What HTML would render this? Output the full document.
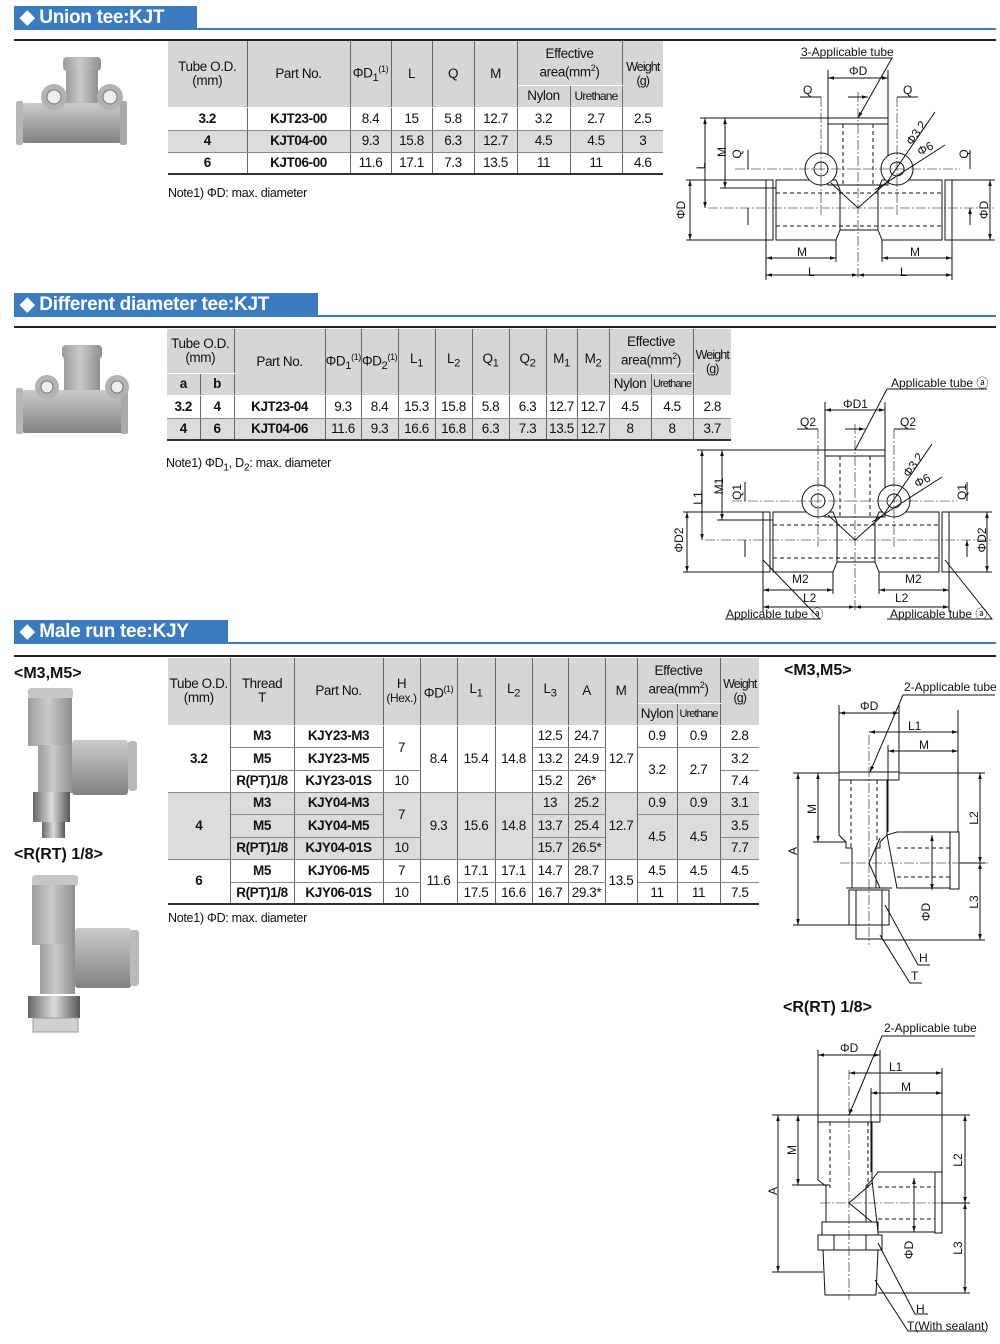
<!DOCTYPE html>
<html><head><meta charset="utf-8">
<style>
*{margin:0;padding:0;box-sizing:border-box}
body{width:1000px;height:1344px;position:relative;background:#fff;font-family:"Liberation Sans",sans-serif;color:#111;overflow:hidden}
.hdr{position:absolute;left:14px;height:24px;background:#3b7cc0;color:#fff;font-weight:bold;font-size:19px;line-height:24px;padding-left:6px;letter-spacing:-0.3px}
.hline{position:absolute;left:14px;width:982px;height:2px;background:#3b7cc0}
.bline{position:absolute;left:14px;width:982px;height:2px;background:#222}
table{position:absolute;border-collapse:collapse;table-layout:fixed;font-size:13.5px;letter-spacing:-0.4px;text-align:center}
td{border-left:1px solid #666;border-right:1px solid #666;border-bottom:1px solid #888;padding:0;line-height:14px;overflow:hidden;white-space:nowrap}
td:first-child{border-left:none}
td:last-child{border-right:none}
tr.h td{background:#d6d6d6;border-bottom:1px solid #fff}
tr.g td{background:#dcdcdc}
td.b{font-weight:bold}
td.w{font-size:12.5px;letter-spacing:-0.9px}
sup{font-size:9px}
.note{position:absolute;font-size:12.5px;letter-spacing:-0.3px}
.sub{position:absolute;font-weight:bold;font-size:16px}
svg{position:absolute;left:0;top:0}
svg text{font-family:"Liberation Sans",sans-serif;font-size:12px;fill:#111}
</style></head><body>

<div class="hdr" style="top:6px;width:183px">◆ Union tee:KJT</div>
<div class="hline" style="top:28px"></div>
<div class="bline" style="top:39px"></div>

<div class="hdr" style="top:293px;width:304px">◆ Different diameter tee:KJT</div>
<div class="hline" style="top:315px"></div>
<div class="bline" style="top:326px"></div>

<div class="hdr" style="top:620px;width:214px">◆ Male run tee:KJY</div>
<div class="hline" style="top:642px"></div>
<div class="bline" style="top:655px"></div>

<!-- Table 1 -->
<table style="left:168px;top:41px;width:495px">
<colgroup><col style="width:79px"><col style="width:103px"><col style="width:41px"><col style="width:41px"><col style="width:42px"><col style="width:43px"><col style="width:53px"><col style="width:52px"><col style="width:41px"></colgroup>
<tr class="h" style="height:44px"><td rowspan="2">Tube O.D.<br>(mm)</td><td rowspan="2">Part No.</td><td rowspan="2">ΦD<sub>1</sub><sup>(1)</sup></td><td rowspan="2">L</td><td rowspan="2">Q</td><td rowspan="2">M</td><td colspan="2">Effective<br>area(mm<sup>2</sup>)</td><td rowspan="2" class="w">Weight<br>(g)</td></tr>
<tr class="h" style="height:22px"><td>Nylon</td><td style="font-size:12px;letter-spacing:-0.8px">Urethane</td></tr>
<tr style="height:23px"><td class="b">3.2</td><td class="b">KJT23-00</td><td>8.4</td><td>15</td><td>5.8</td><td>12.7</td><td>3.2</td><td>2.7</td><td>2.5</td></tr>
<tr class="g" style="height:22px"><td class="b">4</td><td class="b">KJT04-00</td><td>9.3</td><td>15.8</td><td>6.3</td><td>12.7</td><td>4.5</td><td>4.5</td><td>3</td></tr>
<tr style="height:22px;border-bottom:2px solid #333"><td class="b">6</td><td class="b">KJT06-00</td><td>11.6</td><td>17.1</td><td>7.3</td><td>13.5</td><td>11</td><td>11</td><td>4.6</td></tr>
</table>
<div class="note" style="left:168px;top:186px">Note1) ΦD: max. diameter</div>

<!-- Table 2 -->
<table style="left:167px;top:329px;width:564px">
<colgroup><col style="width:33px"><col style="width:34px"><col style="width:91px"><col style="width:36px"><col style="width:37px"><col style="width:37px"><col style="width:37px"><col style="width:37px"><col style="width:37px"><col style="width:31px"><col style="width:32px"><col style="width:42px"><col style="width:42px"><col style="width:38px"></colgroup>
<tr class="h" style="height:44px"><td colspan="2">Tube O.D.<br>(mm)</td><td rowspan="2">Part No.</td><td rowspan="2">ΦD<sub>1</sub><sup>(1)</sup></td><td rowspan="2">ΦD<sub>2</sub><sup>(1)</sup></td><td rowspan="2">L<sub>1</sub></td><td rowspan="2">L<sub>2</sub></td><td rowspan="2">Q<sub>1</sub></td><td rowspan="2">Q<sub>2</sub></td><td rowspan="2">M<sub>1</sub></td><td rowspan="2">M<sub>2</sub></td><td colspan="2">Effective<br>area(mm<sup>2</sup>)</td><td rowspan="2" class="w">Weight<br>(g)</td></tr>
<tr class="h" style="height:22px"><td class="b">a</td><td class="b">b</td><td>Nylon</td><td style="font-size:11px;letter-spacing:-0.9px">Urethane</td></tr>
<tr style="height:23px"><td class="b">3.2</td><td class="b">4</td><td class="b">KJT23-04</td><td>9.3</td><td>8.4</td><td>15.3</td><td>15.8</td><td>5.8</td><td>6.3</td><td>12.7</td><td>12.7</td><td>4.5</td><td>4.5</td><td>2.8</td></tr>
<tr class="g" style="height:22px;border-bottom:2px solid #333"><td class="b">4</td><td class="b">6</td><td class="b">KJT04-06</td><td>11.6</td><td>9.3</td><td>16.6</td><td>16.8</td><td>6.3</td><td>7.3</td><td>13.5</td><td>12.7</td><td>8</td><td>8</td><td>3.7</td></tr>
</table>
<div class="note" style="left:166px;top:456px">Note1) ΦD<sub>1</sub>, D<sub>2</sub>: max. diameter</div>

<!-- Table 3 -->
<table style="left:168px;top:658px;width:591px">
<colgroup><col style="width:62px"><col style="width:64px"><col style="width:89px"><col style="width:37px"><col style="width:37px"><col style="width:38px"><col style="width:37px"><col style="width:36px"><col style="width:37px"><col style="width:32px"><col style="width:40px"><col style="width:43px"><col style="width:39px"></colgroup>
<tr class="h" style="height:45px"><td rowspan="2">Tube O.D.<br>(mm)</td><td rowspan="2">Thread<br>T</td><td rowspan="2">Part No.</td><td rowspan="2">H<br><span style="font-size:12px">(Hex.)</span></td><td rowspan="2">ΦD<sup>(1)</sup></td><td rowspan="2">L<sub>1</sub></td><td rowspan="2">L<sub>2</sub></td><td rowspan="2">L<sub>3</sub></td><td rowspan="2">A</td><td rowspan="2">M</td><td colspan="2">Effective<br>area(mm<sup>2</sup>)</td><td rowspan="2" class="w">Weight<br>(g)</td></tr>
<tr class="h" style="height:22px"><td>Nylon</td><td style="font-size:11px;letter-spacing:-0.9px">Urethane</td></tr>
<tr style="height:22px"><td class="b" rowspan="3">3.2</td><td class="b">M3</td><td class="b">KJY23-M3</td><td rowspan="2">7</td><td rowspan="3">8.4</td><td rowspan="3">15.4</td><td rowspan="3">14.8</td><td>12.5</td><td>24.7</td><td rowspan="3">12.7</td><td>0.9</td><td>0.9</td><td>2.8</td></tr>
<tr style="height:23px"><td class="b">M5</td><td class="b">KJY23-M5</td><td>13.2</td><td>24.9</td><td rowspan="2">3.2</td><td rowspan="2">2.7</td><td>3.2</td></tr>
<tr style="height:22px"><td class="b">R(PT)1/8</td><td class="b">KJY23-01S</td><td>10</td><td>15.2</td><td>26*</td><td>7.4</td></tr>
<tr class="g" style="height:22px"><td class="b" rowspan="3">4</td><td class="b">M3</td><td class="b">KJY04-M3</td><td rowspan="2">7</td><td rowspan="3">9.3</td><td rowspan="3">15.6</td><td rowspan="3">14.8</td><td>13</td><td>25.2</td><td rowspan="3">12.7</td><td>0.9</td><td>0.9</td><td>3.1</td></tr>
<tr class="g" style="height:23px"><td class="b">M5</td><td class="b">KJY04-M5</td><td>13.7</td><td>25.4</td><td rowspan="2">4.5</td><td rowspan="2">4.5</td><td>3.5</td></tr>
<tr class="g" style="height:22px"><td class="b">R(PT)1/8</td><td class="b">KJY04-01S</td><td>10</td><td>15.7</td><td>26.5*</td><td>7.7</td></tr>
<tr style="height:23px"><td class="b" rowspan="2">6</td><td class="b">M5</td><td class="b">KJY06-M5</td><td>7</td><td rowspan="2">11.6</td><td>17.1</td><td>17.1</td><td>14.7</td><td>28.7</td><td rowspan="2">13.5</td><td>4.5</td><td>4.5</td><td>4.5</td></tr>
<tr style="height:22px;border-bottom:2px solid #333"><td class="b">R(PT)1/8</td><td class="b">KJY06-01S</td><td>10</td><td>17.5</td><td>16.6</td><td>16.7</td><td>29.3*</td><td>11</td><td>11</td><td>7.5</td></tr>
</table>
<div class="note" style="left:168px;top:911px">Note1) ΦD: max. diameter</div>

<div class="sub" style="left:14px;top:665px">&lt;M3,M5&gt;</div>
<div class="sub" style="left:14px;top:846px">&lt;R(RT) 1/8&gt;</div>
<div class="sub" style="left:784px;top:662px">&lt;M3,M5&gt;</div>
<div class="sub" style="left:783px;top:999px">&lt;R(RT) 1/8&gt;</div>

<svg width="1000" height="1344" viewBox="0 0 1000 1344">
<defs>
<linearGradient id="gv" x1="0" y1="0" x2="0" y2="1"><stop offset="0" stop-color="#c9cbcd"/><stop offset="0.5" stop-color="#a4a6a8"/><stop offset="1" stop-color="#7f8183"/></linearGradient>
<linearGradient id="gh" x1="0" y1="0" x2="1" y2="0"><stop offset="0" stop-color="#9a9c9e"/><stop offset="0.45" stop-color="#c8cacc"/><stop offset="1" stop-color="#8d8f91"/></linearGradient>
<linearGradient id="gm" x1="0" y1="0" x2="1" y2="0"><stop offset="0" stop-color="#666"/><stop offset="0.5" stop-color="#ddd"/><stop offset="1" stop-color="#555"/></linearGradient>
<marker id="a" viewBox="0 0 10 10" refX="10" refY="5" markerWidth="6" markerHeight="6" orient="auto-start-reverse"><path d="M0,2 L10,5 L0,8z" fill="#111"/></marker>
</defs>

<!-- Photos -->
<g>
<rect x="63" y="57" width="38" height="14" rx="4" fill="url(#gh)"/>
<rect x="66" y="70" width="32" height="45" fill="url(#gh)"/>
<rect x="22" y="103" width="100" height="40" rx="3" fill="url(#gv)"/>
<rect x="16" y="101" width="7" height="44" rx="2" fill="#b5b7b9"/>
<rect x="120" y="101" width="7" height="44" rx="2" fill="#a8aaac"/>
<circle cx="54" cy="97" r="13" fill="#b0b2b4"/><circle cx="54" cy="97" r="7" fill="#eee" stroke="#777"/>
<circle cx="110" cy="97" r="13" fill="#b0b2b4"/><circle cx="110" cy="97" r="7" fill="#eee" stroke="#777"/>
</g>
<g>
<rect x="62" y="345" width="40" height="14" rx="4" fill="url(#gh)"/>
<rect x="64" y="358" width="36" height="48" fill="url(#gh)"/>
<rect x="22" y="390" width="102" height="43" rx="3" fill="url(#gv)"/>
<rect x="16" y="388" width="7" height="46" rx="2" fill="#b5b7b9"/>
<rect x="121" y="388" width="7" height="46" rx="2" fill="#a8aaac"/>
<circle cx="47" cy="387" r="12" fill="#b0b2b4"/><circle cx="47" cy="387" r="6" fill="#eee" stroke="#777"/>
<circle cx="117" cy="387" r="12" fill="#b0b2b4"/><circle cx="117" cy="387" r="6" fill="#eee" stroke="#777"/>
</g>
<g>
<rect x="28" y="688" width="45" height="11" rx="3" fill="#c4c6c8"/>
<rect x="28" y="698" width="44" height="48" fill="url(#gh)"/>
<rect x="38" y="745" width="34" height="48" fill="url(#gh)"/>
<rect x="72" y="740" width="56" height="55" rx="3" fill="url(#gv)"/>
<rect x="128" y="741" width="9" height="50" rx="3" fill="#b8babc"/>
<rect x="33" y="792" width="37" height="30" fill="url(#gm)"/>
<rect x="42" y="822" width="23" height="16" fill="url(#gm)"/>
</g>
<g>
<rect x="32" y="875" width="46" height="11" rx="3" fill="#c4c6c8"/>
<rect x="32" y="885" width="43" height="60" fill="url(#gh)"/>
<rect x="40" y="944" width="35" height="50" fill="url(#gh)"/>
<rect x="75" y="928" width="56" height="60" rx="3" fill="url(#gv)"/>
<rect x="130" y="930" width="9" height="56" rx="3" fill="#b8babc"/>
<rect x="28" y="996" width="52" height="22" fill="url(#gm)"/>
<rect x="33" y="1018" width="45" height="14" fill="#d0d0d0" stroke="#999"/>
</g>

<!-- Drawing 1 -->
<g fill="none" stroke="#111" stroke-width="1">
<rect x="828" y="118" width="60" height="6"/>
<rect x="828" y="124" width="60" height="61"/>
<path d="M776,180 H836 L840,190 V230 L836,240 H776 Z"/>
<path d="M942,180 H882 L878,190 V230 L882,240 H942 Z"/>
<path d="M840,230 H878"/>
<rect x="766" y="180" width="7" height="60"/>
<rect x="945" y="180" width="7" height="60"/>
<circle cx="821" cy="169" r="16" fill="#fff"/><circle cx="821" cy="169" r="7"/>
<circle cx="897" cy="169" r="16" fill="#fff"/><circle cx="897" cy="169" r="7"/>
<path d="M831,183 L858,208 L886,183"/>
<path d="M776,193 H942 M776,226 H942 M843,124 V185 M873,124 V185" stroke-dasharray="4,3"/>
<path d="M858,92 V280 M708,208 H995 M735,169 H960 M821,97 V215 M897,97 V215" stroke-width="0.6" stroke-dasharray="10,2,2,2"/>
<path d="M828,70 V118 M888,70 V118 M700,118 H828 M720,188 H776 M686,180 H766 M686,240 H766 M952,180 H995 M952,240 H995 M766,240 V280 M952,240 V280 M836,240 V262 M882,240 V262"/>
<path d="M828,78 H888" marker-start="url(#a)" marker-end="url(#a)"/>
<path d="M800,97 H821 M858,97 H848 M897,97 H918 M858,97 H868" marker-end="url(#a)"/>
<path d="M705,118 V208" marker-start="url(#a)" marker-end="url(#a)"/>
<path d="M725,118 V188" marker-start="url(#a)" marker-end="url(#a)"/>
<path d="M748,150 V169 M748,225 V208 M970,150 V169 M970,225 V208" marker-end="url(#a)"/>
<path d="M690,180 V240" marker-start="url(#a)" marker-end="url(#a)"/>
<path d="M990,180 V240" marker-start="url(#a)" marker-end="url(#a)"/>
<path d="M766,258 H836" marker-start="url(#a)" marker-end="url(#a)"/>
<path d="M882,258 H952" marker-start="url(#a)" marker-end="url(#a)"/>
<path d="M766,275 H858" marker-start="url(#a)" marker-end="url(#a)"/>
<path d="M858,275 H952" marker-start="url(#a)" marker-end="url(#a)"/>
<path d="M800,58 H892 L858,118" marker-end="url(#a)"/>
<path d="M935,112 L885,185 M945,145 L875,190"/>
</g>
<g>
<text x="801" y="56">3-Applicable tube</text>
<text x="849" y="75">ΦD</text>
<text x="803" y="94">Q</text><text x="903" y="94">Q</text>
<text x="705" y="166" transform="rotate(-90 705 166)" text-anchor="middle">L</text>
<text x="726" y="152" transform="rotate(-90 726 152)" text-anchor="middle">M</text>
<text x="741" y="154" transform="rotate(-90 741 154)" text-anchor="middle">Q</text>
<text x="968" y="154" transform="rotate(-90 968 154)" text-anchor="middle">Q</text>
<text x="685" y="210" transform="rotate(-90 685 210)" text-anchor="middle">ΦD</text>
<text x="988" y="210" transform="rotate(-90 988 210)" text-anchor="middle">ΦD</text>
<text x="912" y="146" transform="rotate(-55 912 146)">Φ3.2</text>
<text x="920" y="156" transform="rotate(-28 920 156)">Φ6</text>
<text x="797" y="256">M</text><text x="910" y="256">M</text>
<text x="808" y="276">L</text><text x="900" y="276">L</text>
</g>

<!-- Drawing 2 -->
<g transform="translate(-3,332)" fill="none" stroke="#111" stroke-width="1">
<rect x="828" y="118" width="60" height="6"/>
<rect x="828" y="124" width="60" height="61"/>
<path d="M776,180 H836 L840,190 V230 L836,240 H776 Z"/>
<path d="M942,180 H882 L878,190 V230 L882,240 H942 Z"/>
<path d="M840,230 H878"/>
<rect x="766" y="180" width="7" height="60"/>
<rect x="945" y="180" width="7" height="60"/>
<circle cx="821" cy="169" r="16" fill="#fff"/><circle cx="821" cy="169" r="7"/>
<circle cx="897" cy="169" r="16" fill="#fff"/><circle cx="897" cy="169" r="7"/>
<path d="M831,183 L858,208 L886,183"/>
<path d="M776,193 H942 M776,226 H942 M843,124 V185 M873,124 V185" stroke-dasharray="4,3"/>
<path d="M858,92 V280 M708,208 H995 M735,169 H960 M821,97 V215 M897,97 V215" stroke-width="0.6" stroke-dasharray="10,2,2,2"/>
<path d="M828,70 V118 M888,70 V118 M700,118 H828 M720,188 H776 M686,180 H766 M686,240 H766 M952,180 H995 M952,240 H995 M766,240 V280 M952,240 V280 M836,240 V262 M882,240 V262"/>
<path d="M828,78 H888" marker-start="url(#a)" marker-end="url(#a)"/>
<path d="M800,97 H821 M858,97 H848 M897,97 H918 M858,97 H868" marker-end="url(#a)"/>
<path d="M705,118 V208" marker-start="url(#a)" marker-end="url(#a)"/>
<path d="M725,118 V188" marker-start="url(#a)" marker-end="url(#a)"/>
<path d="M748,150 V169 M748,225 V208 M970,150 V169 M970,225 V208" marker-end="url(#a)"/>
<path d="M690,180 V240" marker-start="url(#a)" marker-end="url(#a)"/>
<path d="M990,180 V240" marker-start="url(#a)" marker-end="url(#a)"/>
<path d="M766,258 H836" marker-start="url(#a)" marker-end="url(#a)"/>
<path d="M882,258 H952" marker-start="url(#a)" marker-end="url(#a)"/>
<path d="M766,275 H858" marker-start="url(#a)" marker-end="url(#a)"/>
<path d="M858,275 H952" marker-start="url(#a)" marker-end="url(#a)"/>
<path d="M890,57 H990 M890,57 L858,118" />
<path d="M935,112 L885,185 M945,145 L875,190"/>
<path d="M728,287 H823 L766,228 M890,287 H995 L948,228"/>
</g>
<g>
<text x="891" y="387">Applicable tube ⓐ</text>
<text x="843" y="408">ΦD1</text>
<text x="800" y="426">Q2</text><text x="900" y="426">Q2</text>
<text x="702" y="498" transform="rotate(-90 702 498)" text-anchor="middle">L1</text>
<text x="723" y="486" transform="rotate(-90 723 486)" text-anchor="middle">M1</text>
<text x="741" y="492" transform="rotate(-90 741 492)" text-anchor="middle">Q1</text>
<text x="966" y="492" transform="rotate(-90 966 492)" text-anchor="middle">Q1</text>
<text x="683" y="540" transform="rotate(-90 683 540)" text-anchor="middle">ΦD2</text>
<text x="986" y="540" transform="rotate(-90 986 540)" text-anchor="middle">ΦD2</text>
<text x="909" y="478" transform="rotate(-55 909 478)">Φ3.2</text>
<text x="917" y="488" transform="rotate(-28 917 488)">Φ6</text>
<text x="792" y="583">M2</text><text x="905" y="583">M2</text>
<text x="803" y="602">L2</text><text x="895" y="602">L2</text>
<text x="726" y="618">Applicable tube ⓐ</text>
<text x="890" y="618">Applicable tube ⓐ</text>
</g>

<!-- Drawing 3 -->
<g fill="none" stroke="#111" stroke-width="1">
<rect x="839" y="772" width="60" height="8"/>
<path d="M839,780 H887 V835 L880,842 V848 H876 V888 M839,780 V835 L846,842 V848 H852 V888"/>
<path d="M887,835 L897,832 H950 V888 H897 Z"/>
<rect x="950" y="832" width="9" height="57"/>
<rect x="849" y="890" width="40" height="35"/>
<path d="M856,890 V925 M882,890 V925 M846,888 H892"/>
<rect x="856" y="925" width="26" height="14"/>
<path d="M880,838 L869,863 L880,888"/>
<path d="M851,780 V848 M877,780 V848 M897,848 H950 M897,877 H950" stroke-dasharray="4,3"/>
<path d="M869,735 V945 M840,863 H988" stroke-width="0.6" stroke-dasharray="10,2,2,2"/>
<path d="M839,705 V772 M899,705 V772 M888,745 V832 M958,710 V832 M793,773 H839 M813,842 H846 M793,925 H849 M899,773 H985 M960,863 H985 M882,940 H985"/>
<path d="M839,713 H899" marker-start="url(#a)" marker-end="url(#a)"/>
<path d="M869,732 H958" marker-start="url(#a)" marker-end="url(#a)"/>
<path d="M888,751 H958" marker-start="url(#a)" marker-end="url(#a)"/>
<path d="M798,773 V925" marker-start="url(#a)" marker-end="url(#a)"/>
<path d="M818,773 V842" marker-start="url(#a)" marker-end="url(#a)"/>
<path d="M980,773 V863" marker-start="url(#a)" marker-end="url(#a)"/>
<path d="M980,863 V940" marker-start="url(#a)" marker-end="url(#a)"/>
<path d="M932,835 V890" marker-start="url(#a)" marker-end="url(#a)"/>
<path d="M995,695 H903 L870,772" marker-end="url(#a)"/>
<path d="M885,905 L918,965 H930 M880,935 L910,983 H922"/>
</g>
<g>
<text x="904" y="691">2-Applicable tube</text>
<text x="860" y="710">ΦD</text>
<text x="908" y="730">L1</text>
<text x="919" y="749">M</text>
<text x="797" y="851" transform="rotate(-90 797 851)" text-anchor="middle">A</text>
<text x="816" y="809" transform="rotate(-90 816 809)" text-anchor="middle">M</text>
<text x="978" y="818" transform="rotate(-90 978 818)" text-anchor="middle">L2</text>
<text x="978" y="902" transform="rotate(-90 978 902)" text-anchor="middle">L3</text>
<text x="930" y="912" transform="rotate(-90 930 912)" text-anchor="middle">ΦD</text>
<text x="919" y="962">H</text>
<text x="911" y="980">T</text>
</g>

<!-- Drawing 4 -->
<g fill="none" stroke="#111" stroke-width="1">
<rect x="818" y="1115" width="62" height="7"/>
<path d="M818,1122 H872 V1180 L866,1186 V1222 M818,1122 V1180 L826,1186 V1222"/>
<path d="M872,1180 L878,1172 H935 V1232 H878 Z"/>
<rect x="935" y="1172" width="7" height="61"/>
<rect x="822" y="1222" width="56" height="13"/>
<path d="M818,1235 H882 V1250 H818 Z M834,1235 V1250 M866,1235 V1250"/>
<path d="M823,1250 H878 L876,1295 H825 Z"/>
<path d="M872,1183 L849,1203 L872,1222"/>
<path d="M830,1122 V1188 M868,1122 V1188 M878,1187 H935 M878,1219 H935" stroke-dasharray="4,3"/>
<path d="M849,1070 V1300 M820,1203 H970" stroke-width="0.6" stroke-dasharray="10,2,2,2"/>
<path d="M818,1050 V1115 M880,1050 V1115 M871,1088 V1172 M942,1068 V1172 M772,1115 H818 M792,1185 H830 M772,1272 H823 M880,1115 H970 M942,1203 H970 M878,1293 H970"/>
<path d="M818,1055 H880" marker-start="url(#a)" marker-end="url(#a)"/>
<path d="M849,1073 H942" marker-start="url(#a)" marker-end="url(#a)"/>
<path d="M871,1093 H942" marker-start="url(#a)" marker-end="url(#a)"/>
<path d="M778,1115 V1272" marker-start="url(#a)" marker-end="url(#a)"/>
<path d="M798,1115 V1185" marker-start="url(#a)" marker-end="url(#a)"/>
<path d="M965,1115 V1203" marker-start="url(#a)" marker-end="url(#a)"/>
<path d="M965,1203 V1293" marker-start="url(#a)" marker-end="url(#a)"/>
<path d="M914,1178 V1232" marker-start="url(#a)" marker-end="url(#a)"/>
<path d="M975,1036 H882 L849,1115" marker-end="url(#a)"/>
<path d="M878,1243 L915,1314 H928 M875,1280 L908,1331 H985"/>
</g>
<g>
<text x="884" y="1032">2-Applicable tube</text>
<text x="840" y="1052">ΦD</text>
<text x="889" y="1071">L1</text>
<text x="901" y="1091">M</text>
<text x="777" y="1191" transform="rotate(-90 777 1191)" text-anchor="middle">A</text>
<text x="796" y="1150" transform="rotate(-90 796 1150)" text-anchor="middle">M</text>
<text x="962" y="1160" transform="rotate(-90 962 1160)" text-anchor="middle">L2</text>
<text x="962" y="1248" transform="rotate(-90 962 1248)" text-anchor="middle">L3</text>
<text x="913" y="1250" transform="rotate(-90 913 1250)" text-anchor="middle">ΦD</text>
<text x="916" y="1313">H</text>
<text x="907" y="1330">T(With sealant)</text>
</g>
</svg>
</body></html>
